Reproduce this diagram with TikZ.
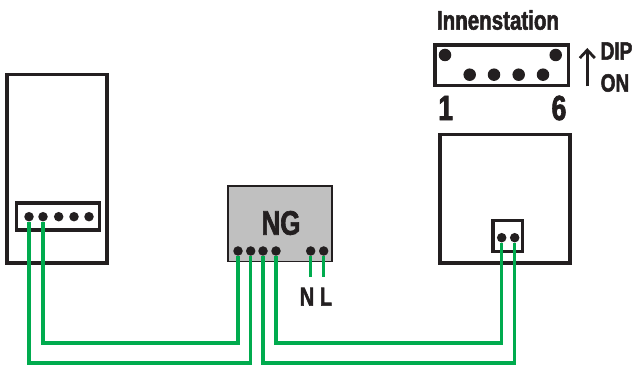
\documentclass[tikz,border=0pt]{standalone}
\usepackage{fontspec}
\setmainfont{Liberation Sans}[BoldFeatures={FakeStretch=0.76, FakeBold=2}]
\usetikzlibrary{arrows.meta, positioning, calc}
\definecolor{wiregreen}{HTML}{00AB4E}
\definecolor{inkdark}{HTML}{231F20}
\definecolor{unitgray}{HTML}{C0C0C0}

\tikzset{
  unitbox/.style={rectangle, draw=inkdark, line width=3.6pt, inner sep=0pt, outer sep=0pt},
  pin/.style={circle, fill=inkdark, inner sep=0pt, minimum size=9.5pt},
  bigpin/.style={circle, fill=inkdark, inner sep=0pt, minimum size=12.5pt},
  wire/.style={draw=wiregreen, line width=3.5pt},
  caption/.style={text=inkdark, font=\bfseries\fontsize{#1}{#1}\selectfont, inner sep=0pt}
}

\begin{document}
\begin{tikzpicture}[x=1pt, y=1pt]
  \useasboundingbox (0,0) rectangle (635,367);

  \node[unitbox, minimum width=100.3pt, minimum height=188.5pt] (panel) at (56.85,198.25) {};
  \node[unitbox, minimum width=83pt, minimum height=27pt] (terminal) at (58,150.5) {};
  \node[unitbox, line width=1.8pt, fill=unitgray, minimum width=104pt, minimum height=75.5pt] (ng) at (280,143.3) {};
  \node[unitbox, minimum width=130pt, minimum height=128.5pt] (station) at (505,168.25) {};
  \node[unitbox, minimum width=29.5pt, minimum height=31pt] (socket) at (507.75,131) {};
  \node[unitbox, minimum width=133.5pt, minimum height=40.5pt] (dip) at (501.75,301.75) {};

  \foreach \name/\x in {a/29, b/43, c/58.7, d/74, e/89}
    \node[pin] (terminal\name) at (\x,150.3) {};
  \foreach \name/\x in {a/238, b/250.7, c/263, d/276, n/310.7, l/323.7}
    \node[pin] (ng\name) at (\x,116) {};
  \foreach \name/\x in {a/501.7, b/514.7}
    \node[pin] (socket\name) at (\x,129.3) {};
  \foreach \name/\x/\y in {a/445/312, b/469.7/292.3, c/494/292.3, d/518.7/292.3, e/543/292.3, f/555.7/312}
    \node[bigpin] (dip\name) at (\x,\y) {};

  \coordinate (lowrail) at (0,4);
  \coordinate (highrail) at (0,24);
  \coordinate (nend) at (310.7,90);
  \coordinate (lend) at (323.7,90);
  \coordinate (arrowfoot) at (587.3,280.5);
  \coordinate (arrowtip) at (587.3,319);

  \draw[wire] (terminala.south) -- (terminala.south |- lowrail) -- (ngb.south |- lowrail) -- (ngb.south);
  \draw[wire] (terminalb.south) -- (terminalb.south |- highrail) -- (nga.south |- highrail) -- (nga.south);
  \draw[wire] (ngc.south) -- (ngc.south |- lowrail) -- (socketb.south |- lowrail) -- (socketb.south);
  \draw[wire] (ngd.south) -- (ngd.south |- highrail) -- (socketa.south |- highrail) -- (socketa.south);
  \draw[wire] (ngn.south) -- (nend);
  \draw[wire] (ngl.south) -- (lend);
  \draw[draw=inkdark, line width=2.8pt, -{Straight Barb[length=8pt, width=15pt]}] (arrowfoot) -- (arrowtip);

  \node[caption=27] (title) at (498,347) {Innenstation};
  \node[caption=35] (first) at (445.7,259) {1};
  \node[caption=35] (last) at (559,259) {6};
  \node[caption=25, anchor=west] (diplabel) at (600.5,316) {DIP};
  \node[caption=25, anchor=west] (onlabel) at (600.5,284) {ON};
  \node[caption=34] (nglabel) at (281,144) {NG};
  \node[caption=26] (nlabel) at (307,70.3) {N};
  \node[caption=26] (llabel) at (326,70.3) {L};
\end{tikzpicture}
\end{document}
